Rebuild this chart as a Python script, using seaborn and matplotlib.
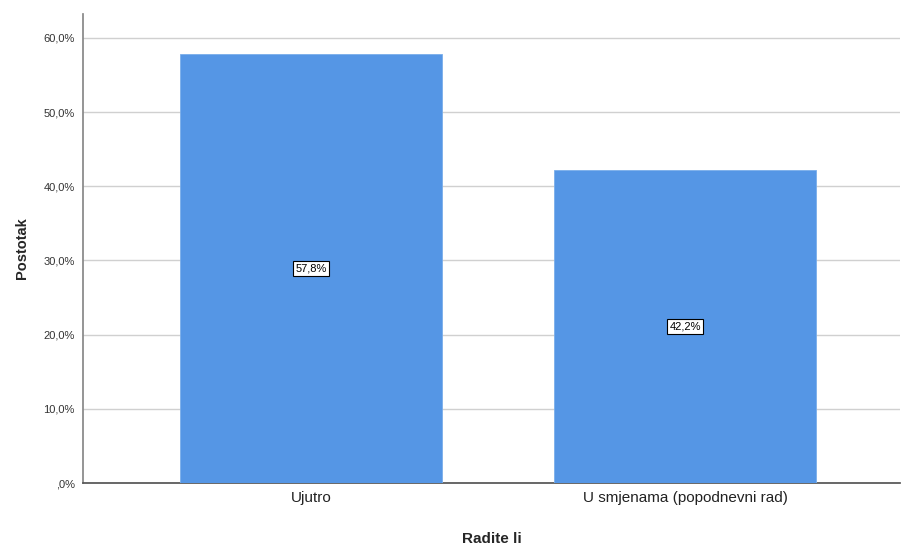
import matplotlib
matplotlib.use("Agg")
import matplotlib.pyplot as plt
import pandas as pd
import seaborn as sns
from matplotlib.ticker import FuncFormatter

categories = ["Ujutro", "U smjenama (popodnevni rad)"]
percentages = [57.8, 42.2]

df = pd.DataFrame({"Radite li": categories, "Postotak": percentages})

sns.set_theme(style="white")
plt.rcParams["font.family"] = ["Liberation Sans", "DejaVu Sans"]


def pct(v, _=None):
    s = ("%.1f%%" % v).replace(".", ",")
    return s.lstrip("0") if v == 0 else s


fig = plt.figure(figsize=(9.02, 5.44), dpi=100)
ax = fig.add_axes([0.092, 0.112, 0.906, 0.862])

sns.barplot(data=df, x="Radite li", y="Postotak", color="#5596E5",
            width=0.7, saturation=1, ax=ax, zorder=3, edgecolor="#7aaeea", linewidth=0.6)

ax.set_ylim(0, 63.2)
ax.set_xlim(-0.61, 1.575)
ax.set_yticks(range(0, 61, 10))
ax.yaxis.set_major_formatter(FuncFormatter(pct))
ax.grid(axis="y", color="#d0d0d0", linewidth=1, zorder=0)
ax.tick_params(axis="y", labelsize=8, length=0, pad=6, colors="#333333")
ax.tick_params(axis="x", labelsize=11, length=0, pad=6, colors="#222222")

for s in ["top", "right"]:
    ax.spines[s].set_visible(False)
ax.spines["left"].set_color("#888888")
ax.spines["bottom"].set_color("#555555")

ax.set_xlabel("Radite li", fontsize=11, fontweight="bold", labelpad=19)
ax.set_ylabel("Postotak", fontsize=10.5, fontweight="bold", labelpad=10)

for i, v in enumerate(percentages):
    ax.text(i, v / 2, pct(v), ha="center", va="center",
            fontsize=8, color="black", zorder=5,
            bbox=dict(boxstyle="square,pad=0.2", fc="white", ec="black", lw=0.8))

fig.savefig("out.png", dpi=100)
